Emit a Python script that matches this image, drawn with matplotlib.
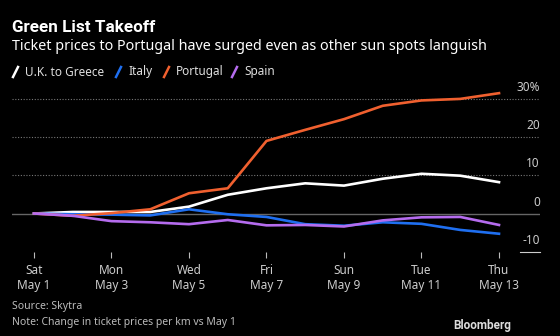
import numpy as np
import matplotlib
matplotlib.use("Agg")
import matplotlib.pyplot as plt
from matplotlib.lines import Line2D

days = np.arange(13)
tick_labels = ["Sat\nMay 1", "Mon\nMay 3", "Wed\nMay 5", "Fri\nMay 7",
               "Sun\nMay 9", "Tue\nMay 11", "Thu\nMay 13"]

greece = [0, 0.4, 0.4, 0.4, 1.8, 4.9, 6.6, 7.9, 7.3, 9.1, 10.4, 9.9, 8.2]
italy = [0, -0.2, -0.3, -0.5, 1.1, -0.2, -0.9, -2.8, -3.2, -2.3, -2.7, -4.3, -5.3]
portugal = [0, -0.6, 0.1, 1.1, 5.3, 6.6, 19.0, 21.9, 24.7, 28.2, 29.6, 30.0, 31.5]
spain = [0, -0.6, -2.0, -2.3, -2.8, -1.7, -3.1, -3.0, -3.4, -1.8, -1.0, -0.9, -3.0]

series = [("U.K. to Greece", greece, "#ffffff"),
          ("Italy", italy, "#1f6ff0"),
          ("Portugal", portugal, "#f0602f"),
          ("Spain", spain, "#b56cee")]

plt.rcParams["font.family"] = ["Noto Sans", "DejaVu Sans"]
W, H = 560, 336
fig = plt.figure(figsize=(W / 100, H / 100), dpi=100, facecolor="black")

# axes box in pixel coords: left 12, right 540, top 90, bottom 252
ax = fig.add_axes([12 / W, 1 - 252 / H, 528 / W, 162 / H])
ax.set_facecolor("black")
x0, dx = 34, 38.75
ax.set_xlim(-(x0 - 12) / dx, (540 - x0) / dx)
y0, dy = 213.5, 3.82
ax.set_ylim(-(252 - y0) / dy, (y0 - 90) / dy)

for v in (10, 20, 30):
    ax.axhline(v, color="#777777", lw=0.8, ls=(0, (1, 1.5)), zorder=1)
ax.axhline(0, color="#666666", lw=1.0, zorder=1)
ax.axhline(-10, xmin=0.962, xmax=1.0, color="#cccccc", lw=0.8, clip_on=False)

for name, vals, col in series:
    ax.plot(days, vals, color=col, lw=1.9, zorder=3, solid_joinstyle="round")

for v, lab in [(30, "30%"), (20, "20"), (10, "10"), (0, "0"), (-10, "-10")]:
    ax.text(1.0, v + 3.0, lab, transform=ax.get_yaxis_transform(),
            ha="right", va="center", color="#cccccc", fontsize=8.5)

ax.set_xticks(days[::2])
ax.set_xticklabels(tick_labels, color="#cccccc", fontsize=8.5, linespacing=1.15)
ax.tick_params(axis="x", length=4, width=0.8, color="#bbbbbb", pad=5)
ax.set_yticks([])
for s in ax.spines.values():
    s.set_visible(False)

fig.text(12 / W, 1 - 28 / H, "Green List Takeoff", color="white",
         fontsize=12.3, fontweight="bold", family="Roboto", va="center")
fig.text(12 / W, 1 - 46 / H,
         "Ticket prices to Portugal have surged even as other sun spots languish",
         color="white", fontsize=10.3, va="center")

# legend row with slash markers
leg_x = [13, 116, 164, 232]
for (name, vals, col), lx in zip(series, leg_x):
    fig.add_artist(Line2D([lx / W, (lx + 5) / W], [1 - 77 / H, 1 - 67 / H],
                          color=col, lw=1.8, transform=fig.transFigure))
    fig.text((lx + 12) / W, 1 - 72 / H, name, color="#dddddd",
             fontsize=8.5, va="center")

fig.text(12 / W, 1 - 307 / H, "Source: Skytra", color="#bbbbbb", fontsize=7.5, va="center")
fig.text(12 / W, 1 - 322 / H, "Note: Change in ticket prices per km vs May 1",
         color="#bbbbbb", fontsize=7.5, va="center")
fig.text(511 / W, 1 - 325 / H, "Bloomberg", color="#dddddd", fontsize=8.5,
         fontweight="bold", family="Roboto", ha="right", va="center")

fig.savefig("out.png", dpi=100, facecolor="black")
